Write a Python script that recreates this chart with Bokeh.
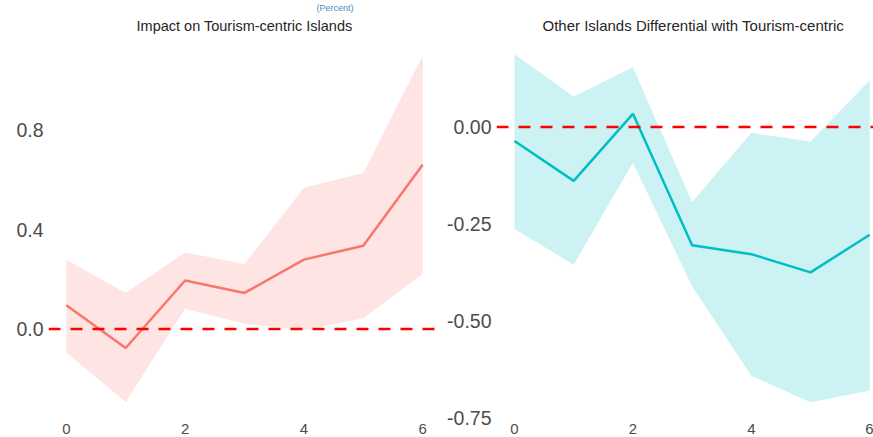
from bokeh.plotting import figure
from bokeh.layouts import row
from bokeh.models import Span, FixedTicker, NumeralTickFormatter, Range1d, Title
from bokeh.embed import file_html
from bokeh.resources import INLINE

# ---- data ----
periods = [0, 1, 2, 3, 4, 5, 6]

tourism_est = [0.095, -0.077, 0.195, 0.145, 0.279, 0.335, 0.661]
tourism_hi = [0.279, 0.145, 0.308, 0.261, 0.569, 0.628, 1.100]
tourism_lo = [-0.095, -0.295, 0.081, 0.021, -0.005, 0.043, 0.221]

other_est = [-0.036, -0.139, 0.034, -0.305, -0.328, -0.375, -0.278]
other_hi = [0.188, 0.079, 0.154, -0.194, -0.015, -0.037, 0.121]
other_lo = [-0.263, -0.355, -0.092, -0.411, -0.642, -0.710, -0.680]

main_title_tail = "(Percent)"
left_title = "Impact on Tourism-centric Islands"
right_title = "Other Islands Differential with Tourism-centric"
x_ticks = [0, 2, 4, 6]
left_y_ticks = [0.0, 0.4, 0.8]
right_y_ticks = [0.0, -0.25, -0.5, -0.75]

FONT = "Liberation Sans"
TICK_COLOR = "#4D4D4D"
TITLE_COLOR = "#262626"
H = 437
TOP = 34
BOTTOM = 18


def style(p, yfmt):
    p.outline_line_color = None
    p.xgrid.grid_line_color = None
    p.ygrid.grid_line_color = None
    for ax in (p.xaxis[0], p.yaxis[0]):
        ax.axis_line_color = None
        ax.major_tick_line_color = None
        ax.minor_tick_line_color = None
        ax.major_tick_out = 0
        ax.major_tick_in = 0
        ax.major_label_text_font = FONT
        ax.major_label_text_color = TICK_COLOR
    p.xaxis[0].major_label_text_font_size = "15px"
    p.xaxis[0].major_label_standoff = 4
    p.xaxis[0].ticker = FixedTicker(ticks=x_ticks)
    p.yaxis[0].major_label_text_font_size = "19.5px"
    p.yaxis[0].major_label_standoff = 5
    p.yaxis[0].formatter = NumeralTickFormatter(format=yfmt)


# ---- left panel ----
p1 = figure(width=444, height=H, output_backend="svg", toolbar_location=None,
            x_range=Range1d(-0.3, 6.3), y_range=Range1d(-0.365, 1.178),
            min_border_left=48, min_border_right=4, min_border_top=TOP,
            min_border_bottom=BOTTOM)
style(p1, "0.0")
# tail of the overall title (mostly cut off in the reference), kept small and visible
p1.title.text = main_title_tail
p1.title.align = "left"
p1.title.offset = 268
p1.title.text_font = FONT
p1.title.text_font_size = "9px"
p1.title.text_font_style = "normal"
p1.title.text_color = "#4A8BC4"
p1.title.standoff = 0
# panel title, placed right above the plot area
p1.add_layout(Title(text=left_title, align="center", text_font=FONT,
                    text_font_size="14.5px", text_font_style="normal",
                    text_color=TITLE_COLOR, standoff=6), "above")
p1.yaxis[0].ticker = FixedTicker(ticks=left_y_ticks)
p1.varea(x=periods, y1=tourism_lo, y2=tourism_hi, fill_color="#F8766D", fill_alpha=0.2)
p1.line(x=periods, y=tourism_est, line_color="#F8766D", line_width=2.5)
p1.add_layout(Span(location=0, dimension="width", line_color="#FF0000",
                   line_width=2.5, line_dash="12 10"))

# ---- right panel ----
p2 = figure(width=429, height=H, output_backend="svg", toolbar_location=None,
            x_range=Range1d(-0.304, 6.064), y_range=Range1d(-0.7546, 0.2336),
            min_border_left=52, min_border_right=0, min_border_top=TOP,
            min_border_bottom=BOTTOM)
style(p2, "0.00")
p2.title.text = right_title
p2.title.align = "left"
p2.title.offset = 46
p2.title.text_font = FONT
p2.title.text_font_size = "15px"
p2.title.text_font_style = "normal"
p2.title.text_color = TITLE_COLOR
p2.title.standoff = 6
p2.yaxis[0].ticker = FixedTicker(ticks=right_y_ticks)
p2.varea(x=periods, y1=other_lo, y2=other_hi, fill_color="#00BFC4", fill_alpha=0.2)
p2.line(x=periods, y=other_est, line_color="#00BFC4", line_width=2.5)
p2.add_layout(Span(location=0, dimension="width", line_color="#FF0000",
                   line_width=2.5, line_dash="12 10"))

layout = row(p1, p2, spacing=0)
open("out.html", "w").write(file_html(layout, INLINE))
